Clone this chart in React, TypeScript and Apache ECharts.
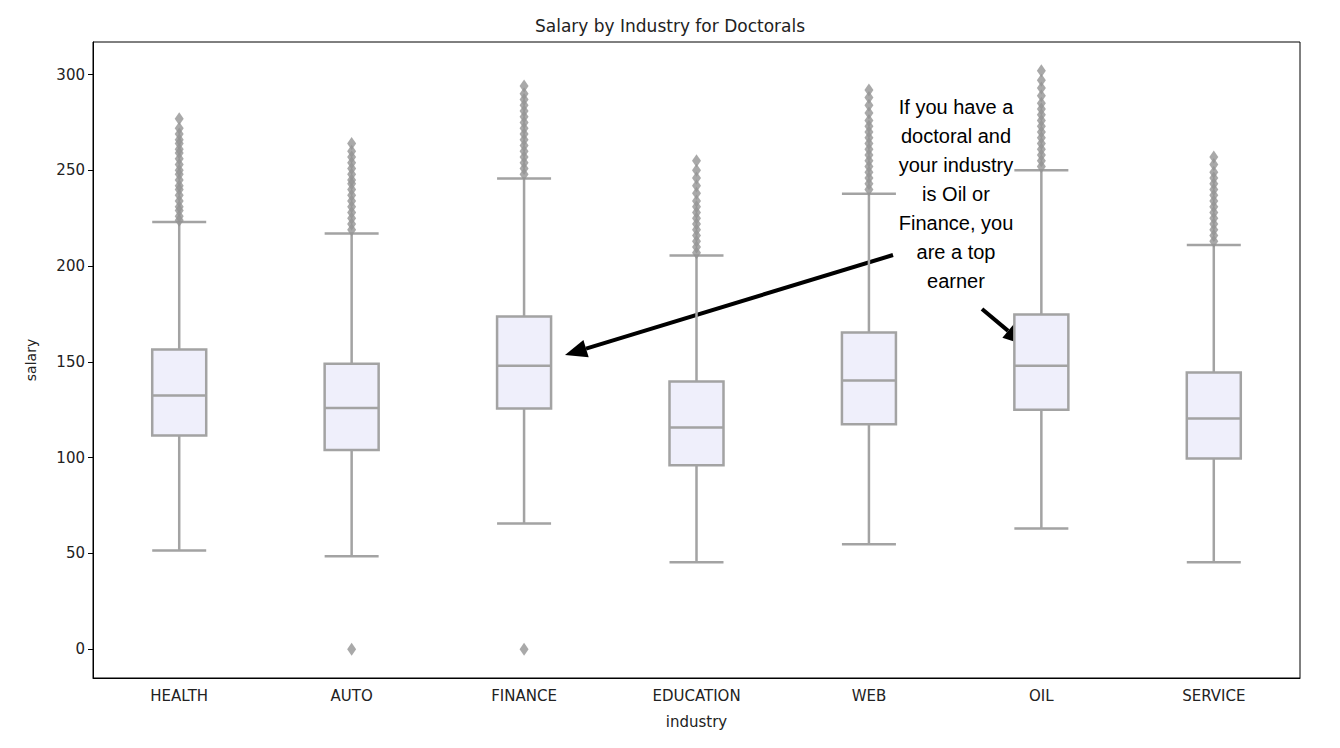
import { useEffect, useRef } from 'react'
import * as echarts from 'echarts'

const industries = ['HEALTH', 'AUTO', 'FINANCE', 'EDUCATION', 'WEB', 'OIL', 'SERVICE']

// [lower whisker, Q1, median, Q3, upper whisker]
const boxes = [
  [51.6, 111.6, 132.5, 156.5, 223],
  [48.5, 104, 126, 149, 217],
  [65.7, 125.7, 148, 173.7, 245.7],
  [45.4, 96, 115.8, 139.8, 205.5],
  [54.8, 117.4, 140.3, 165.4, 237.8],
  [63, 125, 148, 174.7, 250],
  [45.4, 99.6, 120.5, 144.5, 211],
]

const outliers = [
  [224, 226, 229, 231, 234, 237, 240, 242, 245, 248, 250, 253, 256, 259, 261, 264, 266, 269, 272, 277],
  [0, 219, 222, 225, 228, 231, 234, 237, 240, 243, 245, 248, 251, 254, 257, 260, 264],
  [0, 248, 251, 254, 257, 260, 263, 266, 269, 272, 275, 278, 281, 284, 287, 290, 294],
  [207, 210, 213, 216, 219, 222, 225, 228, 231, 234, 238, 242, 246, 250, 255],
  [240, 243, 246, 249, 252, 255, 258, 261, 264, 267, 270, 273, 276, 280, 284, 288, 292],
  [252, 255, 258, 261, 264, 267, 270, 273, 276, 279, 282, 285, 289, 293, 297, 302],
  [213, 216, 219, 222, 225, 228, 231, 234, 237, 240, 243, 246, 249, 253, 257],
]

const yTicks = [0, 50, 100, 150, 200, 250, 300]

const noteLines = [
  'If you have a',
  'doctoral and',
  'your industry',
  'is Oil or',
  'Finance, you',
  'are a top',
  'earner',
]

function arrow(x1: number, y1: number, x2: number, y2: number) {
  const a = Math.atan2(y2 - y1, x2 - x1)
  const len = 22
  const w = 9
  const bx = x2 - len * Math.cos(a)
  const by = y2 - len * Math.sin(a)
  const px = -Math.sin(a) * w
  const py = Math.cos(a) * w
  return [
    { type: 'line', shape: { x1, y1, x2: bx, y2: by }, style: { stroke: '#000', lineWidth: 4 } },
    {
      type: 'polygon',
      shape: { points: [[x2, y2], [bx + px, by + py], [bx - px, by - py]] },
      style: { fill: '#000' },
    },
  ]
}

export default function App() {
  const ref = useRef<HTMLDivElement>(null)

  useEffect(() => {
    if (!ref.current) return
    const chart = echarts.init(ref.current, null, { renderer: 'svg' })
    const font = 'DejaVu Sans, sans-serif'

    chart.setOption({
      animation: false,
      title: {
        text: 'Salary by Industry for Doctorals',
        left: 'center',
        top: 12,
        textStyle: { fontFamily: font, fontSize: 17, fontWeight: 'normal', color: '#222' },
      },
      grid: {
        left: 93, right: 40, top: 42, bottom: 70,
        show: true, borderColor: '#000', borderWidth: 1,
      },
      xAxis: {
        type: 'category',
        data: industries,
        name: 'industry',
        nameLocation: 'middle',
        nameGap: 36,
        nameTextStyle: { fontFamily: font, fontSize: 15, color: '#222' },
        axisLine: { onZero: false, lineStyle: { color: '#000' } },
        axisTick: { alignWithLabel: true, lineStyle: { color: '#000' } },
        axisLabel: { fontFamily: font, fontSize: 15, color: '#222', margin: 10 },
      },
      yAxis: {
        type: 'value',
        min: -15,
        max: 317,
        name: 'salary',
        nameLocation: 'middle',
        nameGap: 55,
        nameTextStyle: { fontFamily: font, fontSize: 14, color: '#222' },
        splitLine: { show: false },
        axisLine: { show: true, lineStyle: { color: '#000' } },
        axisTick: { show: true, customValues: yTicks, lineStyle: { color: '#000' } },
        axisLabel: { customValues: yTicks, fontFamily: font, fontSize: 15, color: '#222' },
      },
      series: [
        {
          type: 'boxplot',
          data: boxes,
          boxWidth: [54, 54],
          itemStyle: { color: '#EFEFFB', borderColor: '#A3A3A3', borderWidth: 2.5 },
        },
        {
          type: 'scatter',
          data: outliers.flatMap((vals, i) => vals.map((v) => [i, v])),
          symbol: 'diamond',
          symbolSize: [9, 13],
          itemStyle: { color: '#939393' },
        },
      ],
      graphic: [
        ...noteLines.map((t, i) => ({
          type: 'text',
          x: 956,
          y: 107 + i * 29,
          style: {
            text: t,
            fontFamily: 'Liberation Sans, Arial, sans-serif',
            fontSize: 20,
            fill: '#000',
            align: 'center',
            verticalAlign: 'middle',
          },
        })),
        ...arrow(893, 255, 565, 355),
        ...arrow(982, 309, 1025, 345),
      ],
    })

    return () => chart.dispose()
  }, [])

  return <div ref={ref} style={{ width: 1340, height: 748, margin: -8 }} />
}
